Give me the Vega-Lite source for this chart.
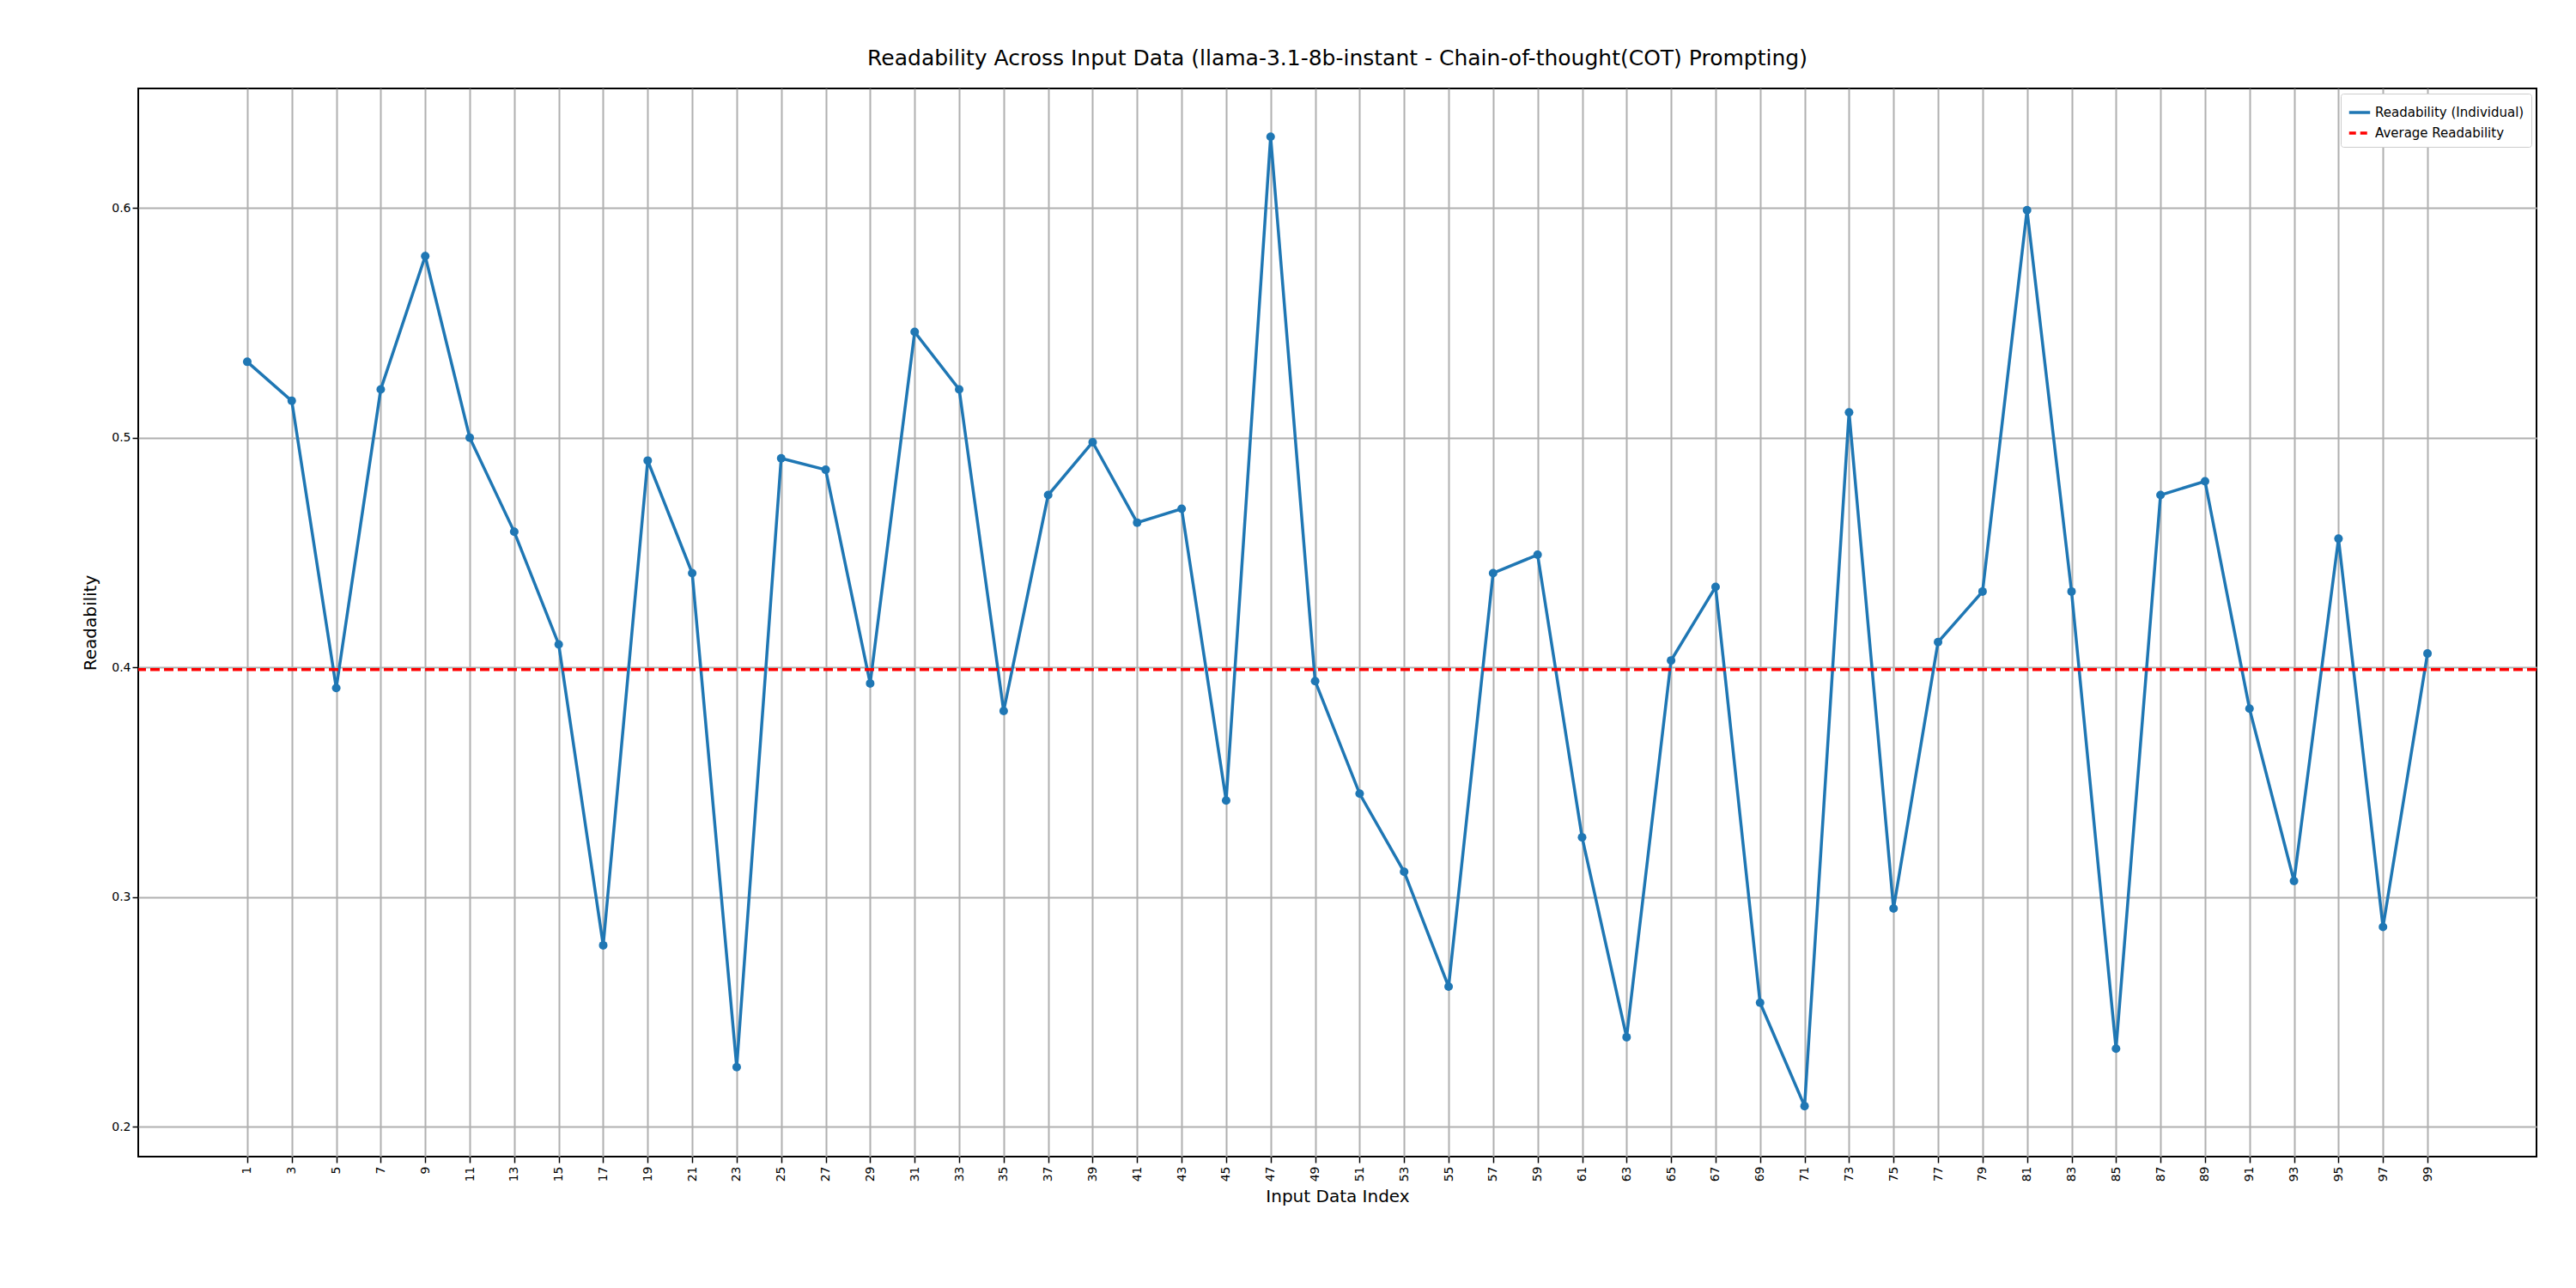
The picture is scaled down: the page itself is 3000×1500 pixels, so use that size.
{
  "$schema": "https://vega.github.io/schema/vega-lite/v6.json",
  "width": 2793,
  "height": 1244,
  "autosize": "none",
  "padding": {"left": 161, "top": 103, "right": 46, "bottom": 153},
  "background": "white",
  "title": {"text": "Readability Across Input Data (llama-3.1-8b-instant - Chain-of-thought(COT) Prompting)", "font": "DejaVu Sans", "fontSize": 25, "fontWeight": "normal", "offset": 22},
  "config": {
    "view": {"stroke": "black", "strokeWidth": 2},
    "axis": {"labelFont": "DejaVu Sans", "titleFont": "DejaVu Sans", "titleFontWeight": "normal", "gridColor": "#b0b0b0", "gridWidth": 2, "gridOpacity": 1, "domain": false, "tickColor": "black", "tickWidth": 1.5, "tickSize": 7, "labelColor": "black", "titleColor": "black"}
  },
  "data": {"values": [
    {"i":1,"r":0.533},{"i":3,"r":0.516},{"i":5,"r":0.391},{"i":7,"r":0.521},{"i":9,"r":0.579},
    {"i":11,"r":0.500},{"i":13,"r":0.459},{"i":15,"r":0.410},{"i":17,"r":0.279},{"i":19,"r":0.490},
    {"i":21,"r":0.441},{"i":23,"r":0.226},{"i":25,"r":0.491},{"i":27,"r":0.486},{"i":29,"r":0.393},
    {"i":31,"r":0.546},{"i":33,"r":0.521},{"i":35,"r":0.381},{"i":37,"r":0.475},{"i":39,"r":0.498},
    {"i":41,"r":0.463},{"i":43,"r":0.469},{"i":45,"r":0.342},{"i":47,"r":0.631},{"i":49,"r":0.394},
    {"i":51,"r":0.345},{"i":53,"r":0.311},{"i":55,"r":0.261},{"i":57,"r":0.441},{"i":59,"r":0.449},
    {"i":61,"r":0.326},{"i":63,"r":0.239},{"i":65,"r":0.403},{"i":67,"r":0.435},{"i":69,"r":0.254},
    {"i":71,"r":0.209},{"i":73,"r":0.511},{"i":75,"r":0.295},{"i":77,"r":0.411},{"i":79,"r":0.433},
    {"i":81,"r":0.599},{"i":83,"r":0.433},{"i":85,"r":0.234},{"i":87,"r":0.475},{"i":89,"r":0.481},
    {"i":91,"r":0.382},{"i":93,"r":0.307},{"i":95,"r":0.456},{"i":97,"r":0.287},{"i":99,"r":0.406}
  ]},
  "layer": [
    {
      "mark": {"type": "line", "strokeWidth": 3.5, "point": {"filled": true, "size": 100}},
      "encoding": {
        "x": {"field": "i", "type": "quantitative", "title": "Input Data Index",
          "scale": {"domain": [-3.9, 103.9], "nice": false, "zero": false},
          "axis": {"values": [1,3,5,7,9,11,13,15,17,19,21,23,25,27,29,31,33,35,37,39,41,43,45,47,49,51,53,55,57,59,61,63,65,67,69,71,73,75,77,79,81,83,85,87,89,91,93,95,97,99],
            "labelAngle": -90, "labelFontSize": 14, "titleFontSize": 20, "labelPadding": 4, "titlePadding": 8}},
        "y": {"field": "r", "type": "quantitative", "title": "Readability",
          "scale": {"domain": [0.187, 0.652], "nice": false, "zero": false},
          "axis": {"values": [0.2, 0.3, 0.4, 0.5, 0.6], "format": ".1f", "labelFontSize": 14, "titleFontSize": 20, "titlePadding": 14}},
        "color": {"datum": "Readability (Individual)", "type": "nominal",
          "scale": {"domain": ["Readability (Individual)", "Average Readability"], "range": ["#1f77b4", "#ff0000"]},
          "legend": {"title": null, "orient": "top-right", "labelFont": "DejaVu Sans", "labelFontSize": 15, "labelLimit": 500, "symbolType": "stroke", "symbolStrokeWidth": 3.5, "symbolSize": 600, "strokeColor": "#cccccc", "padding": 8, "fillColor": "white", "cornerRadius": 3, "offset": 6,
            "symbolDash": {"expr": "datum.label == 'Average Readability' ? [8,5] : [1,0]"}}}
      }
    },
    {
      "data": {"values": [{"avg": 0.399}]},
      "mark": {"type": "rule", "strokeWidth": 3.5, "strokeDash": [11, 5]},
      "encoding": {
        "y": {"field": "avg", "type": "quantitative"},
        "color": {"datum": "Average Readability", "type": "nominal"}
      }
    }
  ]
}
